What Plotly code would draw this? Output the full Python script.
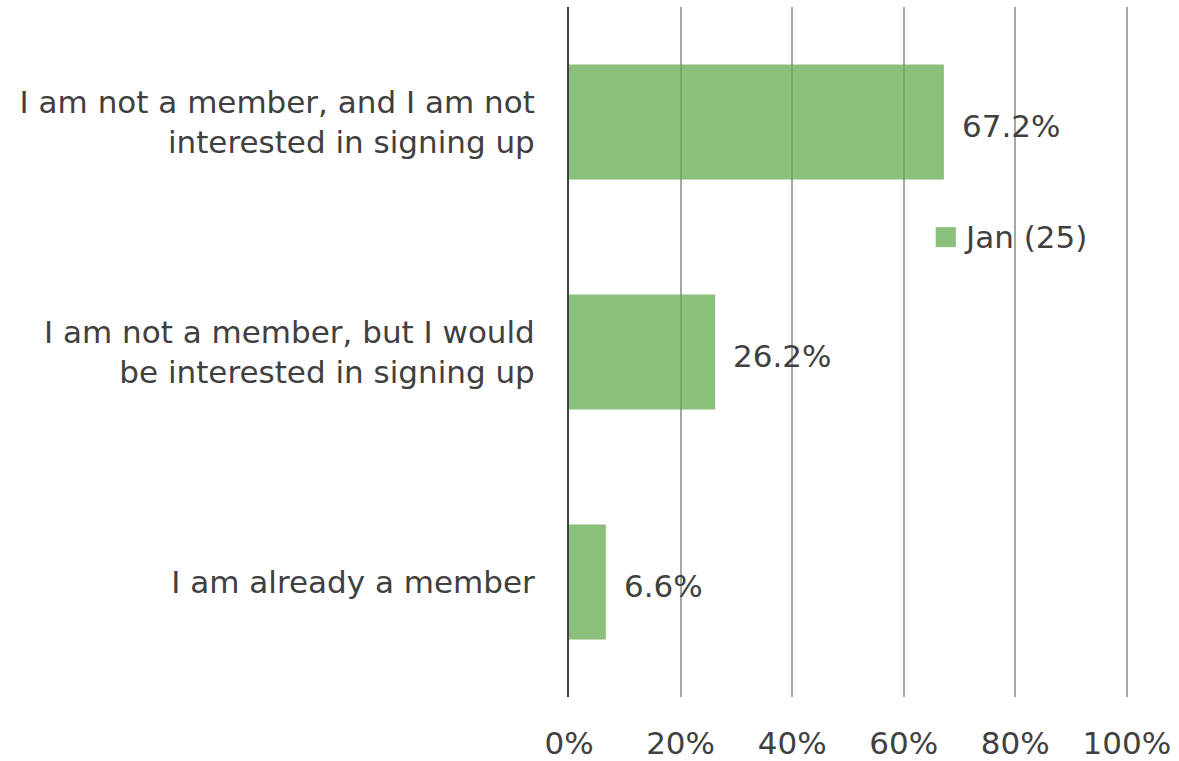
import plotly.graph_objects as go

categories = [
    "I am not a member, and I am not<br>interested in signing up",
    "I am not a member, but I would<br>be interested in signing up",
    "I am already a member",
]
values = [67.2, 26.2, 6.6]
series_name = "Jan (25)"
x_ticks = [0, 20, 40, 60, 80, 100]
x_tick_labels = ["0%", "20%", "40%", "60%", "80%", "100%"]

FONT = "DejaVu Sans, Verdana, sans-serif"
FONT_SIZE = 31
TEXT_COLOR = "#404040"
BAR_COLOR = "rgba(100,170,80,0.75)"

fig = go.Figure(
    go.Bar(
        y=categories,
        x=values,
        orientation="h",
        name=series_name,
        width=0.5,
        marker=dict(color=BAR_COLOR, line=dict(width=0)),
        showlegend=False,
    )
)

# value labels placed just past the end of each bar
for cat, v in zip(categories, values):
    fig.add_annotation(
        x=v, y=cat, xref="x", yref="y",
        text=f"{v:.1f}%",
        showarrow=False,
        xanchor="left", yanchor="middle",
        xshift=16, yshift=-4,
        font=dict(size=FONT_SIZE, color=TEXT_COLOR, family=FONT),
    )

# legend key: swatch plus series name
fig.add_shape(
    type="rect", xref="paper", yref="paper",
    x0=0.656, x1=0.692, y0=0.652, y1=0.681,
    fillcolor=BAR_COLOR, line=dict(width=0),
)
fig.add_annotation(
    x=0.703, y=0.666, xref="paper", yref="paper",
    text=series_name, showarrow=False,
    xanchor="left", yanchor="middle",
    font=dict(size=FONT_SIZE, color=TEXT_COLOR, family=FONT),
)

fig.update_layout(
    width=1179,
    height=761,
    margin=dict(l=569, r=51, t=7, b=64),
    paper_bgcolor="white",
    plot_bgcolor="white",
    font=dict(family=FONT, size=FONT_SIZE, color=TEXT_COLOR),
    showlegend=False,
    xaxis=dict(
        range=[0, 100.2],
        tickvals=x_ticks,
        ticktext=x_tick_labels,
        showgrid=True,
        gridcolor="#A6A6A6",
        gridwidth=2,
        zeroline=False,
        showline=False,
        ticks="",
        automargin=False,
        ticklabelstandoff=25,
        tickfont=dict(size=FONT_SIZE, color=TEXT_COLOR, family=FONT),
    ),
    yaxis=dict(
        categoryorder="array",
        categoryarray=categories,
        autorange="reversed",
        showgrid=False,
        showline=True,
        linecolor="#404040",
        linewidth=2,
        ticks="",
        automargin=False,
        ticklabelstandoff=26,
        tickfont=dict(size=FONT_SIZE, color=TEXT_COLOR, family=FONT),
    ),
)

fig.write_html("out.html")
